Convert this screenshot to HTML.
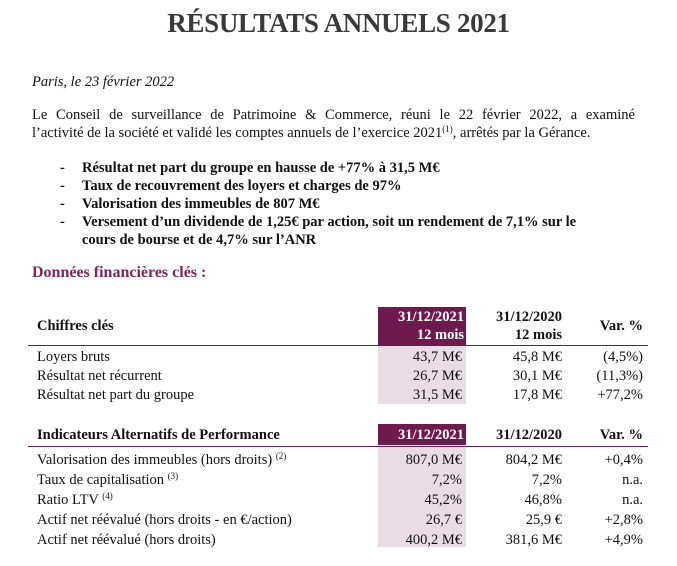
<!DOCTYPE html>
<html><head><meta charset="utf-8"><style>
body{margin:0;width:677px;height:566px;background:#fff;position:relative;font-family:"Liberation Serif",serif;color:#111;font-size:14.5px;overflow:hidden}
.a{position:absolute;white-space:nowrap;line-height:18px}
.r{text-align:right}
.b{font-weight:bold}
sup{font-size:9px;vertical-align:5px;line-height:0}
</style></head><body>
<div class="a b" style="left:0;width:677px;text-align:center;top:7px;font-size:27px;line-height:32px;color:#3a3a3a;letter-spacing:-0.3px">RÉSULTATS ANNUELS 2021</div>
<div class="a" style="left:32px;top:73px;font-style:italic">Paris, le 23 février 2022</div>
<div class="a" style="left:32px;top:106px;width:603px;text-align:justify;text-align-last:justify">Le Conseil de surveillance de Patrimoine &amp; Commerce, réuni le 22 février 2022, a examiné</div>
<div class="a" style="left:32px;top:124px">l’activité de la société et validé les comptes annuels de l’exercice 2021<sup>(1)</sup>, arrêtés par la Gérance.</div>
<div class="a b" style="left:60px;top:159px">-</div><div class="a b" style="left:82px;top:159px">Résultat net part du groupe en hausse de +77% à 31,5 M€</div>
<div class="a b" style="left:60px;top:177px">-</div><div class="a b" style="left:82px;top:177px">Taux de recouvrement des loyers et charges de 97%</div>
<div class="a b" style="left:60px;top:195px">-</div><div class="a b" style="left:82px;top:195px">Valorisation des immeubles de 807 M€</div>
<div class="a b" style="left:60px;top:213px">-</div><div class="a b" style="left:82px;top:213px">Versement d’un dividende de 1,25€ par action, soit un rendement de 7,1% sur le</div>
<div class="a b" style="left:82px;top:231px">cours de bourse et de 4,7% sur l’ANR</div>
<div class="a b" style="left:32px;top:264px;font-size:16px;color:#7a2a55">Données financières clés :</div>

<div style="position:absolute;left:378px;top:307px;width:88px;height:38px;background:#6e1a4f"></div>
<div style="position:absolute;left:378px;top:346px;width:88px;height:58px;background:#e8dde5"></div>
<div style="position:absolute;left:28px;top:345px;width:620px;height:1px;background:#6e1a4f"></div>
<div class="a b" style="left:37px;top:317px">Chiffres clés</div>
<div class="a b r" style="left:378px;width:86px;top:308px;color:#fff">31/12/2021<br>12 mois</div>
<div class="a b r" style="left:462px;width:100px;top:308px">31/12/2020<br>12 mois</div>
<div class="a b r" style="left:580px;width:63px;top:317px">Var. %</div>
<div class="a" style="left:37px;top:348px;line-height:19px">Loyers bruts<br>Résultat net récurrent<br>Résultat net part du groupe</div>
<div class="a r" style="left:378px;width:84px;top:348px;line-height:19px">43,7 M€<br>26,7 M€<br>31,5 M€</div>
<div class="a r" style="left:462px;width:100px;top:348px;line-height:19px">45,8 M€<br>30,1 M€<br>17,8 M€</div>
<div class="a r" style="left:563px;width:80px;top:348px;line-height:19px">(4,5%)<br>(11,3%)<br>+77,2%</div>

<div style="position:absolute;left:378px;top:424px;width:88px;height:21px;background:#6e1a4f"></div>
<div style="position:absolute;left:378px;top:447px;width:88px;height:100px;background:#e8dde5"></div>
<div style="position:absolute;left:28px;top:446px;width:620px;height:1px;background:#6e1a4f"></div>
<div class="a b" style="left:37px;top:426px">Indicateurs Alternatifs de Performance</div>
<div class="a b r" style="left:378px;width:86px;top:426px;color:#fff">31/12/2021</div>
<div class="a b r" style="left:462px;width:100px;top:426px">31/12/2020</div>
<div class="a b r" style="left:580px;width:63px;top:426px">Var. %</div>
<div class="a" style="left:37px;top:450px;line-height:20px">Valorisation des immeubles (hors droits) <sup>(2)</sup><br>Taux de capitalisation <sup>(3)</sup><br>Ratio LTV <sup>(4)</sup><br>Actif net réévalué (hors droits - en €/action)<br>Actif net réévalué (hors droits)</div>
<div class="a r" style="left:378px;width:84px;top:450px;line-height:20px">807,0 M€<br>7,2%<br>45,2%<br>26,7 €<br>400,2 M€</div>
<div class="a r" style="left:462px;width:100px;top:450px;line-height:20px">804,2 M€<br>7,2%<br>46,8%<br>25,9 €<br>381,6 M€</div>
<div class="a r" style="left:563px;width:80px;top:450px;line-height:20px">+0,4%<br>n.a.<br>n.a.<br>+2,8%<br>+4,9%</div>
</body></html>
